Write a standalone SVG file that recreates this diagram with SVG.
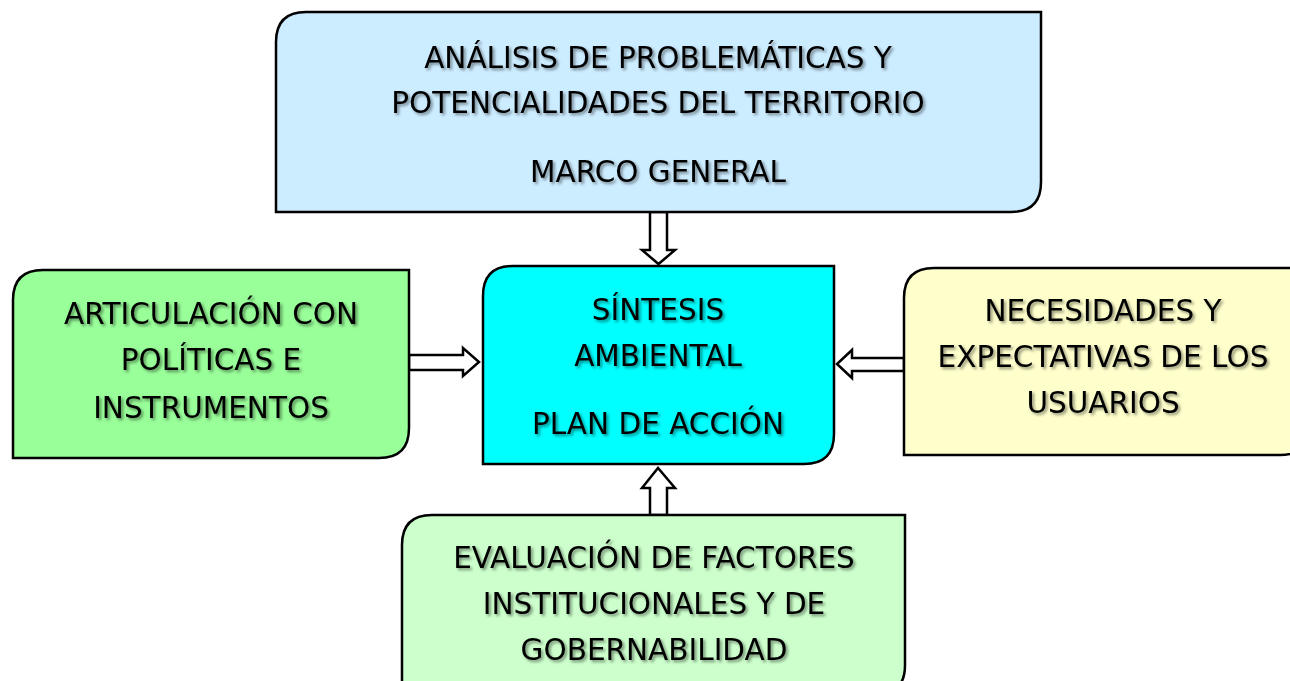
<svg xmlns="http://www.w3.org/2000/svg" width="1290" height="681" viewBox="0 0 1290 681">
<style>
.box{stroke:#000;stroke-width:2.5}
.t{font-family:"DejaVu Sans",sans-serif;font-size:29.5px;fill:#000;text-anchor:middle;filter:url(#sh)}
.arr{fill:#fff;stroke:#000;stroke-width:2.5;stroke-linejoin:miter}
</style>
<defs>
<filter id="sh" x="-10%" y="-30%" width="120%" height="160%">
<feGaussianBlur in="SourceAlpha" stdDeviation="1.6"/>
<feOffset dx="2" dy="2" result="b"/>
<feFlood flood-color="#000" flood-opacity="0.45"/>
<feComposite in2="b" operator="in"/>
<feMerge><feMergeNode/><feMergeNode in="SourceGraphic"/></feMerge>
</filter>
</defs>
<rect width="1290" height="681" fill="#fff"/>
<g id="connectors">
<path class="arr" d="M650,212 V250 H642 L658.5,264 L675,250 H667 V212 Z"/>
<path class="arr" d="M409,355 H463 V348 L479,362 L463,376 V370 H409 Z"/>
<path class="arr" d="M904,358 H852 V350 L837,364 L852,378 V371 H904 Z"/>
<path class="arr" d="M650,515 V488 H642 L658,468 L675,488 H667 V515 Z"/>
</g>
<g id="top">
<path class="box" fill="#CCECFF" d="M306,12 H1041 V182 Q1041,212 1011,212 H276 V42 Q276,12 306,12 Z"/>
<text class="t" x="658" y="68">ANÁLISIS DE PROBLEMÁTICAS Y</text>
<text class="t" x="658" y="113">POTENCIALIDADES DEL TERRITORIO</text>
<text class="t" x="658" y="182">MARCO GENERAL</text>
</g>
<g id="center">
<path class="box" fill="#00FFFF" d="M513,266 H834 V434 Q834,464 804,464 H483 V296 Q483,266 513,266 Z"/>
<text class="t" x="658" y="320">SÍNTESIS</text>
<text class="t" x="658" y="366">AMBIENTAL</text>
<text class="t" x="658" y="434">PLAN DE ACCIÓN</text>
</g>
<g id="left">
<path class="box" fill="#99FF99" d="M43,270 H409 V428 Q409,458 379,458 H13 V300 Q13,270 43,270 Z"/>
<text class="t" x="211" y="324">ARTICULACIÓN CON</text>
<text class="t" x="211" y="370">POLÍTICAS E</text>
<text class="t" x="211" y="418">INSTRUMENTOS</text>
</g>
<g id="right">
<path class="box" fill="#FFFFCC" d="M934,268 H1310 V425 Q1310,455 1280,455 H904 V298 Q904,268 934,268 Z"/>
<text class="t" x="1103" y="321">NECESIDADES Y</text>
<text class="t" x="1103" y="367">EXPECTATIVAS DE LOS</text>
<text class="t" x="1103" y="413">USUARIOS</text>
</g>
<g id="bottom">
<path class="box" fill="#CCFFCC" d="M432,515 H905 V665 Q905,695 875,695 H402 V545 Q402,515 432,515 Z"/>
<text class="t" x="654" y="568">EVALUACIÓN DE FACTORES</text>
<text class="t" x="654" y="614">INSTITUCIONALES Y DE</text>
<text class="t" x="654" y="660">GOBERNABILIDAD</text>
</g>
</svg>
